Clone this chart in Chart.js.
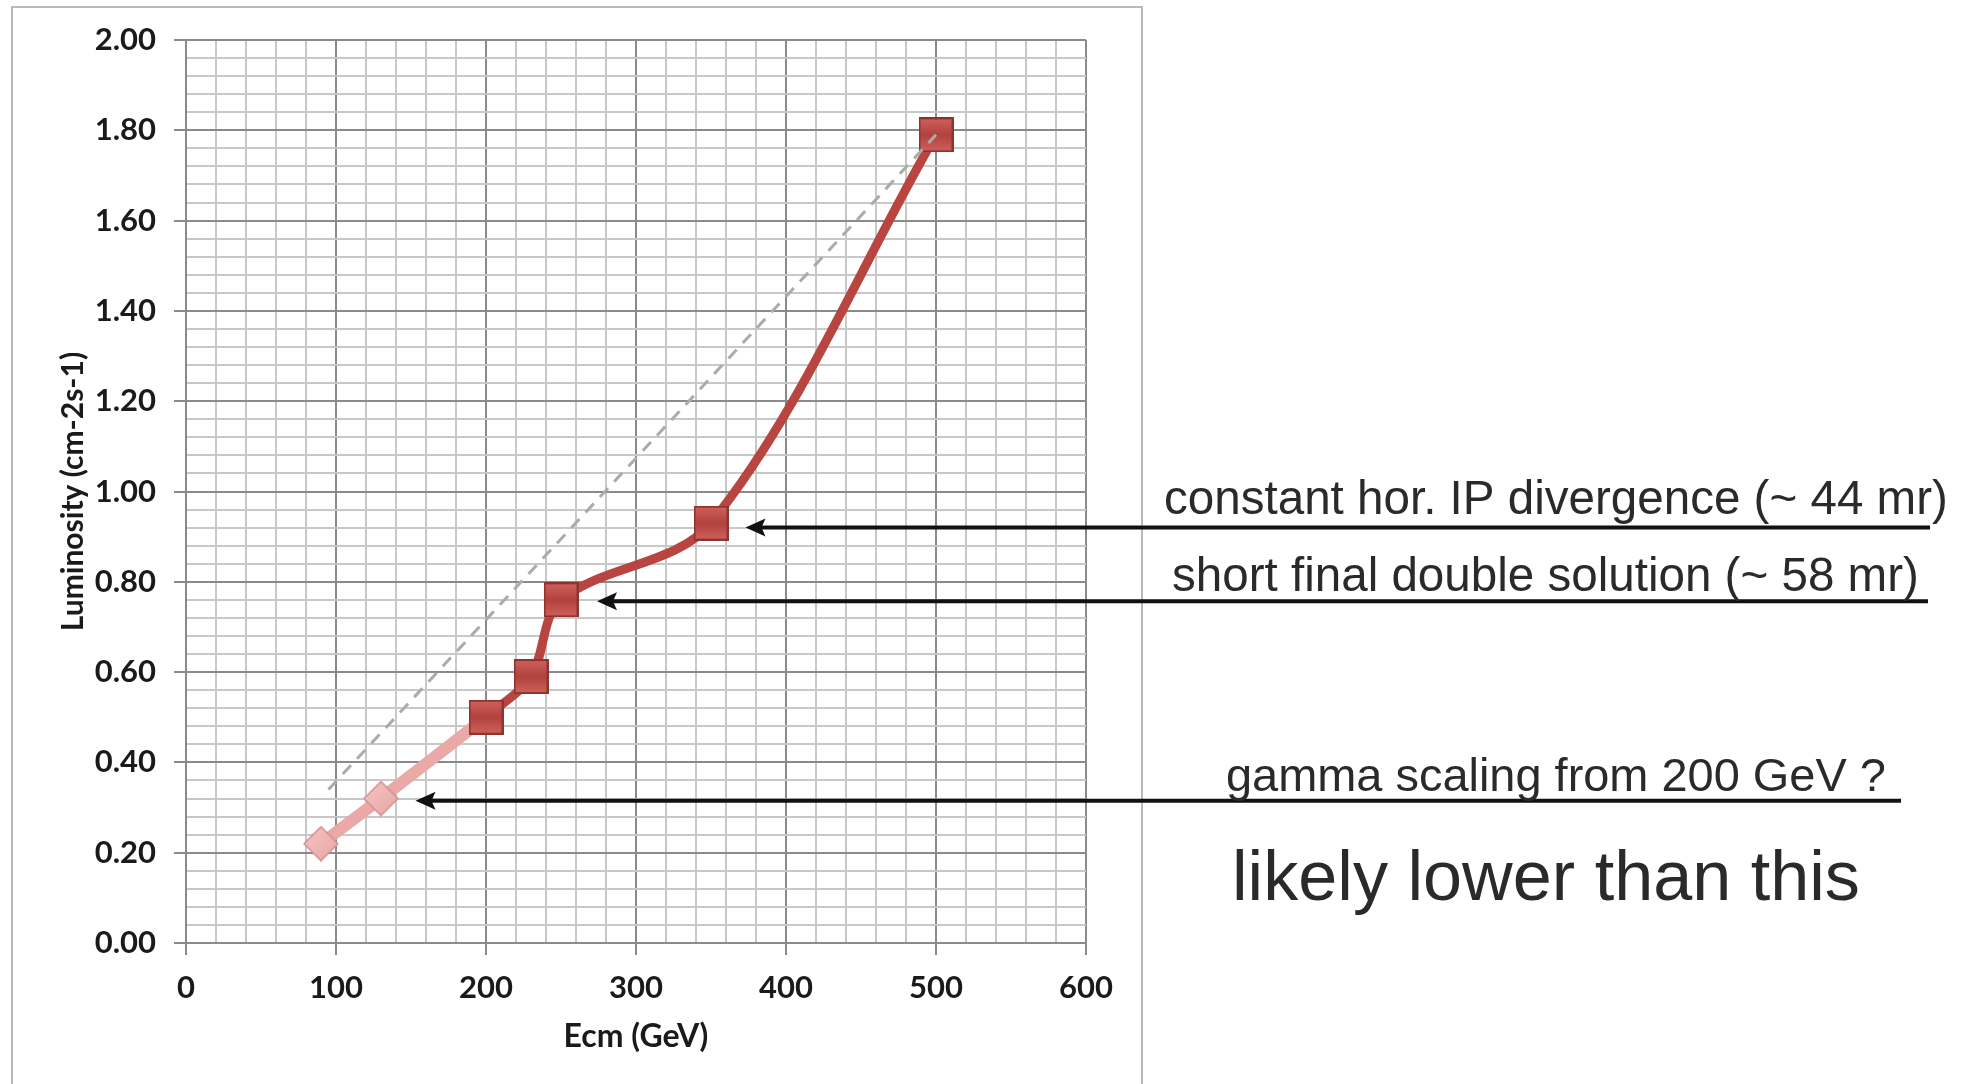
<!DOCTYPE html>
<html>
<head>
<meta charset="utf-8">
<script src="https://cdn.jsdelivr.net/npm/chart.js@4"></script>
<style>
  html, body { margin: 0; padding: 0; background: #ffffff; }
  #wrap { width: 1968px; height: 1084px; position: relative; }
</style>
</head>
<body>
<div id="wrap"><canvas id="c" width="1968" height="1084"></canvas></div>
<script>
// ---- data ----
const ecmMain = [200, 230, 250, 350, 500];
const lumiMain = [0.50, 0.59, 0.76, 0.93, 1.79];

const ecmGamma = [90, 130, 200];
const lumiGamma = [0.22, 0.32, 0.50];

const ecmLinear = [95, 500];
const lumiLinear = [0.34, 1.79];

const xTickLabels = ['0', '100', '200', '300', '400', '500', '600'];
const yTickLabels = ['0.00', '0.20', '0.40', '0.60', '0.80', '1.00', '1.20', '1.40', '1.60', '1.80', '2.00'];

const noteTexts = [
  'constant hor. IP divergence (~ 44 mr)',
  'short final double solution (~ 58 mr)',
  'gamma scaling from 200 GeV ?'
];
const noteTipEcm = [373, 274, 153];
const noteTipLumi = [0.92, 0.757, 0.315];
const footText = 'likely lower than this';

// ---- styling helpers ----
function squareMarker(size, top, bottom, stroke) {
  const c = document.createElement('canvas');
  c.width = size; c.height = size;
  const g = c.getContext('2d');
  const grad = g.createLinearGradient(0, 0, 0, size);
  grad.addColorStop(0, top);
  grad.addColorStop(0.5, bottom);
  grad.addColorStop(1, top);
  g.fillStyle = grad;
  g.fillRect(1, 1, size - 2, size - 2);
  g.strokeStyle = stroke;
  g.lineWidth = 2;
  g.strokeRect(1, 1, size - 2, size - 2);
  return c;
}
function diamondMarker(size, fill1, fill2, stroke) {
  const c = document.createElement('canvas');
  c.width = size; c.height = size;
  const g = c.getContext('2d');
  const h = size / 2;
  const grad = g.createLinearGradient(0, 0, size, size);
  grad.addColorStop(0, fill1);
  grad.addColorStop(1, fill2);
  g.beginPath();
  g.moveTo(h, 1); g.lineTo(size - 1, h); g.lineTo(h, size - 1); g.lineTo(1, h); g.closePath();
  g.fillStyle = grad; g.fill();
  g.strokeStyle = stroke; g.lineWidth = 1.5; g.stroke();
  return c;
}
const redSquare = squareMarker(35, '#d0625e', '#b2423e', '#8e3430');
const pinkDiamond = diamondMarker(36, '#f6c6c5', '#e8a4a3', '#cf9190');

const near = (v, step) => Math.abs(Math.round(v / step) * step - v) < 1e-6;
const MAJOR = '#8a8a8a', MINOR = '#c8c8c8';

const pageDeco = {
  id: 'pageDeco',
  beforeDraw(chart) {
    const ctx = chart.ctx;
    ctx.save();
    ctx.fillStyle = '#ffffff';
    ctx.fillRect(0, 0, chart.width, chart.height);
    ctx.strokeStyle = '#b9b9b9';
    ctx.lineWidth = 2;
    ctx.strokeRect(12, 7, 1130, 1200);
    ctx.restore();
  },
  afterDraw(chart) {
    const ctx = chart.ctx;
    const xs = chart.scales.x, ys = chart.scales.y;
    const lineEnds = [1930, 1928, 1901];
    const textLeft = [1164, 1172, 1226];
    const textWidth = [784, 747, 660];
    const textGap = [14, 10, 10];
    ctx.save();
    ctx.fillStyle = '#111111';
    ctx.strokeStyle = '#111111';
    for (let i = 0; i < noteTexts.length; i++) {
      const tx = xs.getPixelForValue(noteTipEcm[i]);
      const ty = ys.getPixelForValue(noteTipLumi[i]);
      ctx.lineWidth = 4;
      ctx.beginPath();
      ctx.moveTo(tx + 14, ty);
      ctx.lineTo(lineEnds[i], ty);
      ctx.stroke();
      ctx.beginPath();
      ctx.moveTo(tx, ty);
      ctx.lineTo(tx + 20, ty - 9);
      ctx.lineTo(tx + 16, ty);
      ctx.lineTo(tx + 20, ty + 9);
      ctx.closePath();
      ctx.fill();
    }
    ctx.fillStyle = '#2a2a2a';
    for (let i = 0; i < noteTexts.length; i++) {
      const ty = ys.getPixelForValue(noteTipLumi[i]);
      ctx.font = '100px "Liberation Sans", Arial, sans-serif';
      const w100 = ctx.measureText(noteTexts[i]).width;
      const fs = 100 * textWidth[i] / w100;
      ctx.font = fs.toFixed(2) + 'px "Liberation Sans", Arial, sans-serif';
      ctx.textBaseline = 'alphabetic';
      ctx.textAlign = 'left';
      ctx.fillText(noteTexts[i], textLeft[i], ty - textGap[i]);
    }
    ctx.font = '100px "Liberation Sans", Arial, sans-serif';
    const wf = ctx.measureText(footText).width;
    const fsf = 100 * 628 / wf;
    ctx.font = fsf.toFixed(2) + 'px "Liberation Sans", Arial, sans-serif';
    ctx.fillText(footText, 1232, 900);
    ctx.restore();
  }
};

const tickFont = { family: 'Lato, "Open Sans", sans-serif', size: 31, weight: 'bold' };

new Chart(document.getElementById('c'), {
  type: 'line',
  data: {
    datasets: [
      {
        label: 'linear scaling',
        data: ecmLinear.map((x, i) => ({ x, y: lumiLinear[i] })),
        borderColor: '#ababab',
        borderWidth: 3,
        borderDash: [12, 9],
        pointRadius: 0,
        tension: 0
      },
      {
        label: 'lattice solutions',
        data: ecmMain.map((x, i) => ({ x, y: lumiMain[i] })),
        borderColor: '#b8453f',
        borderWidth: 9,
        pointStyle: redSquare,
        pointRadius: 18,
        tension: 0.33
      },
      {
        label: 'gamma scaling',
        data: ecmGamma.map((x, i) => ({ x, y: lumiGamma[i] })),
        borderColor: '#eaa8a7',
        borderWidth: 12,
        pointStyle: pinkDiamond,
        pointRadius: ecmGamma.map(x => (x === 200 ? 0 : 18)),
        tension: 0
      }
    ]
  },
  options: {
    responsive: false,
    animation: false,
    devicePixelRatio: 1,
    layout: { padding: { left: 0, top: 40, right: 882, bottom: 0 } },
    plugins: { legend: { display: false }, tooltip: { enabled: false } },
    scales: {
      x: {
        type: 'linear',
        min: 0, max: 600,
        afterFit: s => { s.height = 141; },
        ticks: {
          stepSize: 20,
          autoSkip: false,
          maxRotation: 0,
          padding: 14,
          color: '#1a1a1a',
          font: tickFont,
          callback: v => (near(v, 100) ? xTickLabels[Math.round(v / 100)] : '')
        },
        grid: {
          color: c => (near(c.tick.value, 100) ? MAJOR : MINOR),
          tickColor: c => (near(c.tick.value, 100) ? MAJOR : 'rgba(0,0,0,0)'),
          lineWidth: 2,
          tickLength: 12
        },
        border: { color: MAJOR, width: 2 },
        title: {
          display: true,
          text: 'Ecm (GeV)',
          color: '#1a1a1a',
          font: { family: 'Lato, "Open Sans", sans-serif', size: 32, weight: 'bold' },
          padding: { top: 0, bottom: 28 }
        }
      },
      y: {
        type: 'linear',
        min: 0, max: 2,
        afterFit: s => { s.width = 186; },
        ticks: {
          stepSize: 0.04,
          autoSkip: false,
          padding: 18,
          color: '#1a1a1a',
          font: tickFont,
          callback: v => (near(v, 0.2) ? yTickLabels[Math.round(v / 0.2)] : '')
        },
        grid: {
          color: c => (near(c.tick.value, 0.2) ? MAJOR : MINOR),
          tickColor: c => (near(c.tick.value, 0.2) ? MAJOR : 'rgba(0,0,0,0)'),
          lineWidth: 2,
          tickLength: 12
        },
        border: { color: MAJOR, width: 2 },
        title: {
          display: true,
          text: 'Luminosity (cm-2s-1)',
          color: '#1a1a1a',
          font: { family: 'Lato, "Open Sans", sans-serif', size: 30, weight: 'bold' },
          padding: { top: 55, bottom: 0 }
        }
      }
    }
  },
  plugins: [pageDeco]
});
</script>
</body>
</html>
